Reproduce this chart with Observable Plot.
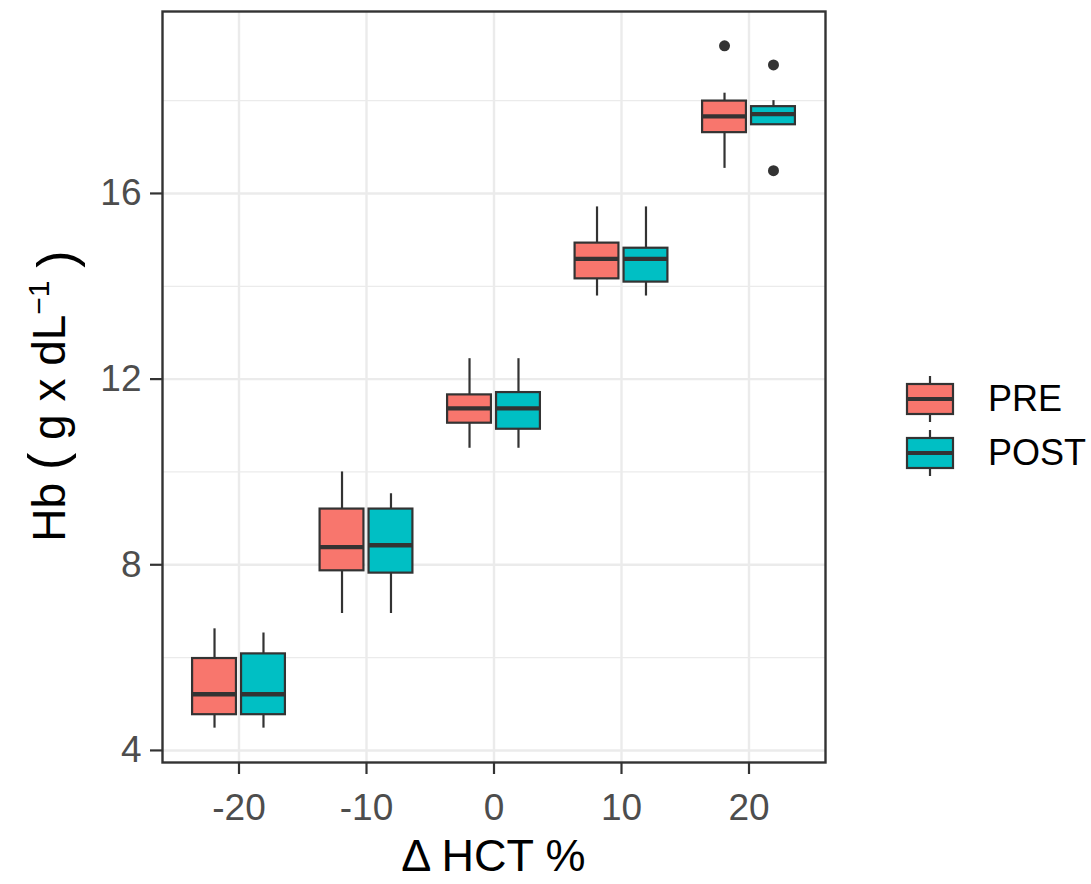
<!DOCTYPE html>
<html>
<head>
<meta charset="utf-8">
<script src="https://cdn.jsdelivr.net/npm/d3@7"></script>
<script src="https://cdn.jsdelivr.net/npm/@observablehq/plot@0.6"></script>
<style>
  html, body { margin: 0; padding: 0; background: #fff; }
  #wrap { position: relative; width: 1091px; height: 884px; font-family: "Liberation Sans", Arial, sans-serif; }
  #wrap svg.chart g[aria-label="x-axis tick label"], #wrap svg.chart g[aria-label="y-axis tick label"] { fill: #4d4d4d; }
  #legend { position: absolute; left: 905px; top: 372px; }
  .lrow { display: flex; align-items: center; height: 54px; }
  .lrow span { font-size: 36px; color: #000; margin-left: 33px; line-height: 1; }
</style>
</head>
<body>
<div id="wrap"></div>
<script>
// ---- data ----
const hct = [-20, -10, 0, 10, 20];
const groups = ["PRE", "POST"];
const colors = ["#F8766D", "#00BFC4"];

const preLo  = [4.48, 6.95, 10.51, 13.79, 16.54];
const preQ1  = [4.77, 7.87, 11.05, 14.16, 17.31];
const preMed = [5.21, 8.38, 11.37, 14.59, 17.66];
const preQ3  = [5.98, 9.20, 11.66, 14.93, 17.99];
const preHi  = [6.62, 10.00, 12.44, 15.71, 18.16];

const postLo  = [4.48, 6.95, 10.51, 13.79, 17.48];
const postQ1  = [4.77, 7.82, 10.92, 14.09, 17.48];
const postMed = [5.21, 8.42, 11.37, 14.59, 17.71];
const postQ3  = [6.08, 9.20, 11.71, 14.82, 17.87];
const postHi  = [6.53, 9.53, 12.44, 15.71, 18.00];

const outHct   = [20, 20, 20];
const outGroup = ["PRE", "POST", "POST"];
const outVal   = [19.18, 18.77, 16.49];

const yTicks = [4, 8, 12, 16];
const yMinor = [6, 10, 14, 18];

// ---- tables built from the arrays ----
const boxes = [];
hct.forEach((h, i) => {
  boxes.push({hct: h, group: "PRE", lo: preLo[i], q1: preQ1[i], med: preMed[i], q3: preQ3[i], hi: preHi[i]});
  boxes.push({hct: h, group: "POST", lo: postLo[i], q1: postQ1[i], med: postMed[i], q3: postQ3[i], hi: postHi[i]});
});
const outliers = outVal.map((v, i) => ({hct: outHct[i], group: outGroup[i], v}));

// dodge (in data units of x)
const dodge = 1.92, half = 1.72;
const cx = d => d.hct + (d.group === "PRE" ? -dodge : dodge);
const ink = "#333333";

const chart = Plot.plot({
  width: 1091,
  height: 884,
  marginLeft: 162,
  marginRight: 266,
  marginTop: 11,
  marginBottom: 122,
  style: {fontFamily: "\"Liberation Sans\", Arial, sans-serif", background: "#fff"},
  x: {domain: [-26, 26]},
  y: {domain: [3.74, 19.92]},
  color: {domain: groups, range: colors},
  marks: [
    Plot.gridY(yMinor, {stroke: "#ebebeb", strokeOpacity: 1, strokeWidth: 1.2}),
    Plot.gridY(yTicks, {stroke: "#ebebeb", strokeOpacity: 1, strokeWidth: 2.4}),
    Plot.gridX(hct, {stroke: "#ebebeb", strokeOpacity: 1, strokeWidth: 2.4}),
    Plot.ruleX(boxes, {x: cx, y1: "lo", y2: "q1", stroke: ink, strokeWidth: 2.2}),
    Plot.ruleX(boxes, {x: cx, y1: "q3", y2: "hi", stroke: ink, strokeWidth: 2.2}),
    Plot.rect(boxes, {x1: d => cx(d) - half, x2: d => cx(d) + half, y1: "q1", y2: "q3", fill: "group", stroke: ink, strokeWidth: 2.2}),
    Plot.ruleY(boxes, {y: "med", x1: d => cx(d) - half, x2: d => cx(d) + half, stroke: ink, strokeWidth: 4.4}),
    Plot.dot(outliers, {x: cx, y: "v", r: 5.5, fill: ink, stroke: "none"}),
    Plot.frame({stroke: ink, strokeWidth: 2.4}),
    Plot.axisX({ticks: hct, tickFormat: d => String(d), tickSize: 12, tickPadding: 19, fontSize: 37, stroke: ink, strokeWidth: 2.2, label: null}),
    Plot.axisY({ticks: yTicks, tickFormat: d => String(d), tickSize: 12, tickPadding: 9, fontSize: 37, stroke: ink, strokeWidth: 2.2, label: null})
  ]
});
chart.classList.add("chart");
document.getElementById("wrap").appendChild(chart);

// axis titles
const svg = d3.select(chart);
svg.append("text")
  .attr("x", 493.5).attr("y", 871)
  .attr("text-anchor", "middle")
  .attr("font-size", 45)
  .attr("fill", "#000")
  .text("\u0394 HCT %");

const NB = "\u00A0";
const yt = svg.append("text")
  .attr("transform", "translate(65,396) rotate(-90)")
  .attr("text-anchor", "middle")
  .attr("font-size", 46)
  .attr("fill", "#000");
yt.append("tspan").text("Hb" + NB);
yt.append("tspan").attr("font-size", 52).text("(");
yt.append("tspan").text(NB + "g" + NB + "x" + NB + "dL");
yt.append("tspan").attr("dy", "-0.55em").attr("font-size", 30).text("\u22121");
yt.append("tspan").attr("dy", "0.55em").text(NB);
yt.append("tspan").attr("font-size", 52).text(")");

// legend
const leg = d3.select("#wrap").append("div").attr("id", "legend");
groups.forEach((g, i) => {
  const row = leg.append("div").attr("class", "lrow");
  const s = row.append("svg").attr("width", 50).attr("height", 50);
  s.append("line").attr("x1", 25).attr("x2", 25).attr("y1", 2).attr("y2", 48).attr("stroke", ink).attr("stroke-width", 2.2);
  s.append("rect").attr("x", 2).attr("y", 10).attr("width", 46).attr("height", 30).attr("fill", colors[i]).attr("stroke", ink).attr("stroke-width", 2.2);
  s.append("line").attr("x1", 2).attr("x2", 48).attr("y1", 25).attr("y2", 25).attr("stroke", ink).attr("stroke-width", 4);
  row.append("span").text(g);
});
</script>
</body>
</html>
